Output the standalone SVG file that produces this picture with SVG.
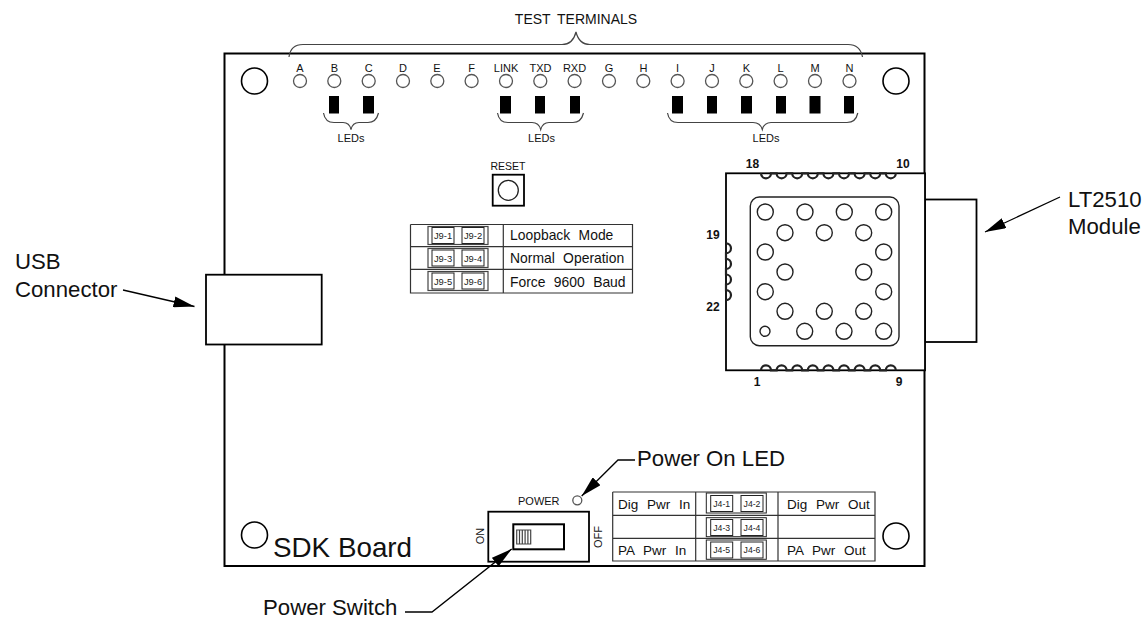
<svg xmlns="http://www.w3.org/2000/svg" width="1144" height="620" viewBox="0 0 1144 620">
<style>
text{font-family:"Liberation Sans",Arial,sans-serif;fill:#111}
.m{text-anchor:middle}
.t{font-size:11px}
.big{font-size:22.2px}
.tb{font-size:13.5px;word-spacing:5px}
.tc{font-size:13.9px;word-spacing:4.5px}
.j{font-size:9.4px;text-anchor:middle;fill:#222}
.j4{font-size:8.7px;text-anchor:middle;fill:#222}
.n{font-size:12px;font-weight:bold;text-anchor:middle}
.w{fill:#fff;stroke:#000;stroke-width:1.8}
.th{fill:none;stroke:#222;stroke-width:1}
.g{fill:none;stroke:#444;stroke-width:1.2}
.term{fill:#fff;stroke:#555;stroke-width:1.3}
.hole{fill:none;stroke:#000;stroke-width:1.6}
.mh{fill:#fff;stroke:#222;stroke-width:1.4}
.led{fill:#000}
.cast{fill:none;stroke:#222;stroke-width:2.2}
.ln{fill:none;stroke:#000;stroke-width:1.3}
.tl{stroke:#333;stroke-width:1.2;fill:none}
</style>
<defs>
<marker id="ah" viewBox="0 0 21 11" refX="21" refY="5.5" markerWidth="21" markerHeight="11" markerUnits="userSpaceOnUse" orient="auto"><path d="M0 0L21 5.500L0 11Z" fill="#000"/></marker>
<g id="jp"><rect class="th" x="0" y="0" width="22" height="16"/></g>
</defs>
<g id="board"><rect x="224.500" y="53.500" width="700" height="512.500" fill="#fff" stroke="#000" stroke-width="2"/>
<text x="273" y="557" style="font-size:27.8px">SDK Board</text></g>
<g id="mount-holes"><circle class="hole" cx="254.500" cy="81" r="13"/><circle class="hole" cx="896" cy="81" r="13"/><circle class="hole" cx="254.500" cy="535" r="13"/><circle class="hole" cx="896" cy="536" r="13"/></g>
<g id="test-terminals">
<text class="m" x="576" y="24" style="font-size:14px;word-spacing:3px">TEST TERMINALS</text>
<path class="g" d="M289 57C290 49 295 44.500 303 44.500H562C569 44.500 574 40 576 32C578 40 583 44.500 590 44.500H848C856 44.500 861 49 862.500 57"/>
<g class="m t">
<text x="300" y="72">A</text><text x="334.500" y="72">B</text><text x="368.700" y="72">C</text><text x="403" y="72">D</text><text x="437" y="72">E</text><text x="471.500" y="72">F</text><text x="506" y="72">LINK</text><text x="540.500" y="72">TXD</text><text x="574.500" y="72">RXD</text><text x="609" y="72">G</text><text x="643.500" y="72">H</text><text x="677.500" y="72">I</text><text x="712" y="72">J</text><text x="746.500" y="72">K</text><text x="780.500" y="72">L</text><text x="815" y="72">M</text><text x="849.500" y="72">N</text>
</g>
<circle class="term" cx="300" cy="81" r="6.500"/><circle class="term" cx="334.300" cy="81" r="6.500"/><circle class="term" cx="368.700" cy="81" r="6.500"/><circle class="term" cx="403" cy="81" r="6.500"/><circle class="term" cx="437.300" cy="81" r="6.500"/><circle class="term" cx="471.600" cy="81" r="6.500"/><circle class="term" cx="506" cy="81" r="6.500"/><circle class="term" cx="540.300" cy="81" r="6.500"/><circle class="term" cx="574.600" cy="81" r="6.500"/><circle class="term" cx="609" cy="81" r="6.500"/><circle class="term" cx="643.300" cy="81" r="6.500"/><circle class="term" cx="677.600" cy="81" r="6.500"/><circle class="term" cx="712" cy="81" r="6.500"/><circle class="term" cx="746.300" cy="81" r="6.500"/><circle class="term" cx="780.600" cy="81" r="6.500"/><circle class="term" cx="815" cy="81" r="6.500"/><circle class="term" cx="849.500" cy="81" r="6.500"/>
</g>
<g id="leds">
<rect class="led" x="329" y="96" width="10" height="17.500"/><rect class="led" x="363" y="96" width="11" height="17.500"/>
<rect class="led" x="500" y="96" width="11" height="17.500"/><rect class="led" x="535" y="96" width="10" height="17.500"/><rect class="led" x="570" y="96" width="10" height="17.500"/>
<rect class="led" x="672" y="96" width="11" height="17.500"/><rect class="led" x="707" y="96" width="10" height="17.500"/><rect class="led" x="741" y="96" width="11" height="17.500"/><rect class="led" x="776" y="96" width="10" height="17.500"/><rect class="led" x="809.500" y="96" width="11" height="17.500"/><rect class="led" x="844" y="96" width="10" height="17.500"/>
<path class="g" d="M323.500 113C324.500 119 328 122.500 334 122.500H343C347 122.500 350 125 351 129.500C352 125 355 122.500 359 122.500H368C374 122.500 377 119 378.500 113"/>
<path class="g" d="M497.500 113C498.500 119 502 122.500 508 122.500H532C536 122.500 539.500 125 540.700 129.500C542 125 545 122.500 549 122.500H573C579 122.500 582 119 583.500 113"/>
<path class="g" d="M667.500 113C668.500 119 672 122.500 678 122.500H753C758 122.500 761 125 762.300 129.500C763.500 125 767 122.500 771 122.500H847C853 122.500 856.500 119 857.800 113"/>
<g class="m t"><text x="351" y="142">LEDs</text><text x="541.500" y="142">LEDs</text><text x="766" y="142">LEDs</text></g>
</g>
<g id="reset"><text class="m" x="508" y="170" style="font-size:10.500px">RESET</text><rect class="w" x="492.700" y="174.700" width="31.300" height="31"/><circle cx="508.300" cy="190.300" r="10" fill="none" stroke="#222" stroke-width="1.300"/></g>
<g id="j9-table">
<path class="tl" d="M410.500 224.500H632.500V293H410.500V224.500M410.500 246.700H632.500M410.500 269.300H632.500M503.300 224.500V293"/>
<rect class="g" x="428" y="226.500" width="60" height="18"/><rect class="g" x="428" y="248.500" width="60" height="19"/><rect class="g" x="428" y="271.500" width="60" height="19"/>
<use href="#jp" x="432" y="227.500"/><use href="#jp" x="462" y="227.500"/><use href="#jp" x="432" y="250"/><use href="#jp" x="462" y="250"/><use href="#jp" x="432" y="273"/><use href="#jp" x="462" y="273"/>
<text class="j" x="443" y="239">J9-1</text><text class="j" x="473" y="239">J9-2</text><text class="j" x="443" y="261.500">J9-3</text><text class="j" x="473" y="261.500">J9-4</text><text class="j" x="443" y="284.500">J9-5</text><text class="j" x="473" y="284.500">J9-6</text>
<text class="tc" x="510" y="240">Loopback Mode</text><text class="tc" x="510" y="263">Normal Operation</text><text class="tc" x="510" y="287">Force 9600 Baud</text>
</g>
<g id="usb-connector"><rect class="w" x="206" y="274.700" width="115.700" height="69.800"/></g>
<g id="lt2510-module">
<rect class="w" x="925" y="199.500" width="51.500" height="142.500"/>
<rect class="w" x="726" y="173.300" width="199" height="197"/>
<rect x="750.300" y="197" width="148.700" height="148.700" rx="9" fill="none" stroke="#222" stroke-width="1.400"/>
<g id="pads">
<circle class="mh" cx="765.300" cy="212" r="8"/><circle class="mh" cx="805" cy="212" r="8"/><circle class="mh" cx="844.300" cy="212" r="8"/><circle class="mh" cx="883.700" cy="212" r="8"/>
<circle class="mh" cx="785" cy="232.700" r="8"/><circle class="mh" cx="824.300" cy="232.700" r="8"/><circle class="mh" cx="863.700" cy="232.700" r="8"/>
<circle class="mh" cx="765.300" cy="252" r="8"/><circle class="mh" cx="883.700" cy="252" r="8"/>
<circle class="mh" cx="785" cy="272" r="8"/><circle class="mh" cx="863.700" cy="272" r="8"/>
<circle class="mh" cx="765.300" cy="291.700" r="8"/><circle class="mh" cx="883.700" cy="291.700" r="8"/>
<circle class="mh" cx="785" cy="311.300" r="8"/><circle class="mh" cx="824.300" cy="311.300" r="8"/><circle class="mh" cx="863.700" cy="311.300" r="8"/>
<circle class="mh" cx="765" cy="331.300" r="5"/><circle class="mh" cx="804.700" cy="331.300" r="8"/><circle class="mh" cx="844" cy="331.300" r="8"/><circle class="mh" cx="883.700" cy="331.300" r="8"/>
</g>
<path class="cast" d="M761 173.300a5 5 0 0 0 10 0h5.600a5 5 0 0 0 10 0h5.600a5 5 0 0 0 10 0h5.600a5 5 0 0 0 10 0h5.600a5 5 0 0 0 10 0h5.600a5 5 0 0 0 10 0h5.600a5 5 0 0 0 10 0h5.600a5 5 0 0 0 10 0h5.600a5 5 0 0 0 10 0"/>
<path class="cast" d="M761 370.300a5 5 0 0 1 10 0h5.600a5 5 0 0 1 10 0h5.600a5 5 0 0 1 10 0h5.600a5 5 0 0 1 10 0h5.600a5 5 0 0 1 10 0h5.600a5 5 0 0 1 10 0h5.600a5 5 0 0 1 10 0h5.600a5 5 0 0 1 10 0h5.600a5 5 0 0 1 10 0"/>
<path class="cast" d="M726 243.300a5 5 0 0 1 0 10v5.600a5 5 0 0 1 0 10v5.600a5 5 0 0 1 0 10v5.600a5 5 0 0 1 0 10"/>
<text class="n" x="752.500" y="168">18</text><text class="n" x="903" y="168">10</text><text class="n" x="713" y="239">19</text><text class="n" x="713" y="311">22</text><text class="n" x="757" y="386">1</text><text class="n" x="899" y="386">9</text>
</g>
<g id="power-led"><text class="t" x="518" y="505">POWER</text><circle class="term" cx="577.300" cy="500.300" r="4.500"/></g>
<g id="power-switch">
<rect class="w" x="488.300" y="511.700" width="100.700" height="50"/>
<rect x="513.300" y="524.300" width="50.700" height="25" fill="#fff" stroke="#000" stroke-width="2"/>
<path class="g" d="M516.700 530H530.700V544H516.700ZM519.500 530V544M522.300 530V544M525.100 530V544M527.900 530V544"/>
<text class="t m" transform="translate(484 536) rotate(-90)">ON</text><text class="t m" transform="translate(602 537) rotate(-90)">OFF</text>
</g>
<g id="j4-table">
<path class="tl" d="M612.700 492H875V561H612.700V492M612.700 515.300H875M612.700 538.300H875M695.700 492V561M778 492V561"/>
<rect x="706.300" y="493" width="60" height="20" fill="#fff" stroke="#222"/><rect x="706.300" y="517.700" width="60" height="19" fill="#fff" stroke="#222"/><rect x="706.300" y="540" width="60" height="19.300" fill="#fff" stroke="#222"/>
<use href="#jp" x="710.700" y="495.500"/><use href="#jp" x="741" y="495.500"/><use href="#jp" x="710.700" y="519.500"/><use href="#jp" x="741" y="519.500"/><use href="#jp" x="710.700" y="542"/><use href="#jp" x="741" y="542"/>
<text class="j4" x="721.700" y="506.500">J4-1</text><text class="j4" x="752" y="506.500">J4-2</text><text class="j4" x="721.700" y="530.500">J4-3</text><text class="j4" x="752" y="530.500">J4-4</text><text class="j4" x="721.700" y="553">J4-5</text><text class="j4" x="752" y="553">J4-6</text>
<text class="tb" x="618" y="509">Dig Pwr In</text><text class="tb" x="787" y="509">Dig Pwr Out</text><text class="tb" x="618" y="555">PA Pwr In</text><text class="tb" x="787" y="555">PA Pwr Out</text>
</g>
<g id="connectors">
<line class="ln" x1="123" y1="290" x2="194.500" y2="306.500" marker-end="url(#ah)"/>
<line class="ln" x1="1060" y1="197" x2="985" y2="232" marker-end="url(#ah)"/>
<path class="ln" d="M635 460H618L581.700 496" marker-end="url(#ah)"/>
<path class="ln" d="M405 612H432L511.700 549" marker-end="url(#ah)"/>
</g>
<g id="labels">
<text class="big" x="15" y="269">USB</text><text class="big" x="15" y="297">Connector</text>
<text class="big" x="1068" y="207">LT2510</text><text class="big" x="1068" y="234">Module</text>
<text class="big" x="637" y="466">Power On LED</text><text class="big" x="263" y="615">Power Switch</text>
</g>
</svg>
